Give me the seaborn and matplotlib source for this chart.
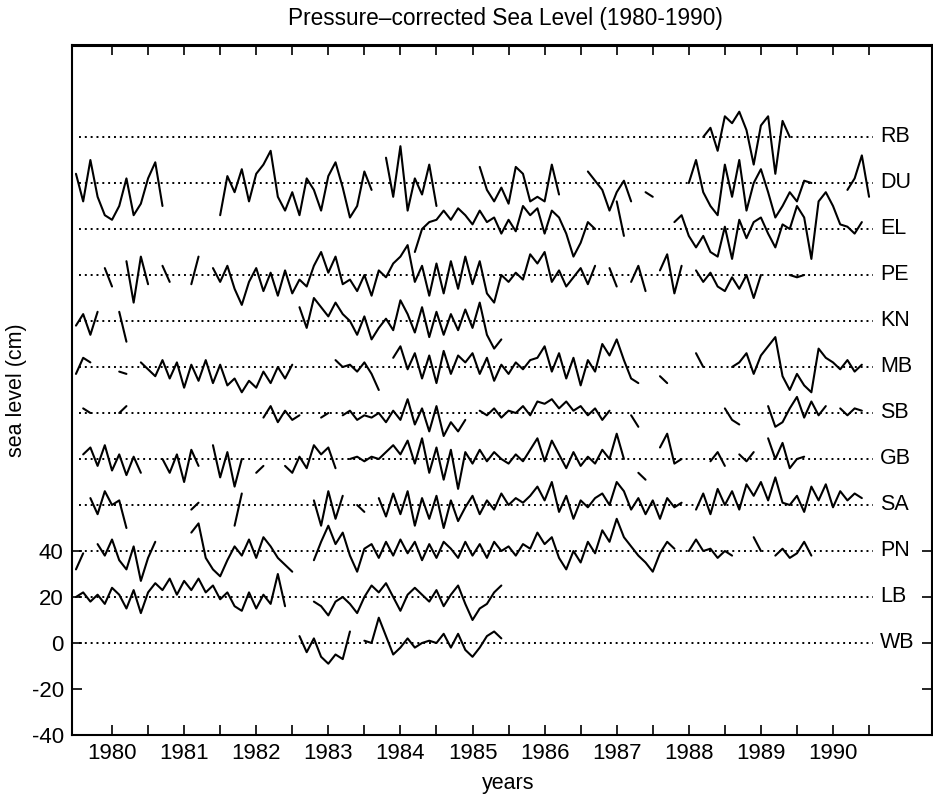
import numpy as np
import pandas as pd
import matplotlib
matplotlib.use("Agg")
import matplotlib.pyplot as plt
import seaborn as sns

nan = np.nan

# time axis: 1980.0 .. 1991.0 in steps of 0.1 year (111 samples)
years = np.round(np.arange(1980.0, 1991.05, 0.1), 1)

stations = ["RB", "DU", "EL", "PE", "KN", "MB", "SB", "GB", "SA", "PN", "LB", "WB"]
offsets = [220, 200, 180, 160, 140, 120, 100, 80, 60, 40, 20, 0]

RB = [nan] * 87 + [0, 4, -6, 9, 6, 11, 3, -12, 5, 9, -16, 7, 0] + [nan] * 11

DU = ([4, -8, 10, -6, -14, -16, -10, 2, -14, -9, 2, 9, -10] + [nan] * 7
      + [-14, 3, -4, 6, -8, 4, 8, 14, -6, -12, -4, -14, 2, -3, -12, 3, 9, -2, -15, -10, 5, -3]
      + [nan] + [11, -6, 16, -12, 2, -5, 8, -10] + [nan] * 5
      + [7, -3, -8, -2, -9, 7, 4, -8, -6, -8, 8, -5] + [nan] * 3
      + [5, 1, -3, -12, -4, 1, -8] + [nan] + [-4, -6] + [nan] * 4
      + [0, 10, -4, -10, -14, 8, -6, 10, -12, 0, 6, -4, -15, -10, -4, -8, 1, 0]
      + [nan] * 4 + [-3, 2, 12, -6])

EL = ([nan] * 47
      + [-10, 0, 3, 4, 8, 4, 9, 6, 2, 8, 3, 5, -2, 4, -1, 10, 6, 9, -2, 8, 5, -2, -12, -6, 3, 0]
      + [nan] * 2 + [12, -3] + [nan] * 6
      + [3, 6, -3, -8, -3, -10, -12, 1, -13, 4, -4, 3, 5, -2, -8, 2, 0, 10, 5, -13, 12, 16, 10, 2, 1, -2, 3]
      + [nan])

PE = ([nan] * 4 + [3, -5] + [nan] + [6, -12, 8, -4] + [nan] + [4, -3] + [nan] * 2
      + [-4, 8] + [nan]
      + [3, -3, 4, -6, -13, -3, 3, -7, 1, -9, 2, -8, -2, -5, 4, 10, 1, 8, -4, -2,
         -7, 0, -9, 2, -1, 5, 8, 13, -3, 4, -9, 5, -8, 6, -6, 8, -4, 6, -8, -12,
         0, -3, 1, -2, 9, 5, 10, -3, 2, -5, -1, 3, -4, 4]
      + [nan] + [3, -5] + [nan] + [-3, 4, -7] + [nan] + [2, 9, -8, 4] + [nan]
      + [2, -3, 1, -5, -7, -1, -6, 0, -10, 0] + [nan] * 3 + [0, -1, 0] + [nan] * 9)

KN = ([-2, 3, -6, 4] + [nan] * 2 + [4, -9] + [nan] * 23
      + [6, -3, 10, 6, 2, 8, 3, 0, -6, 2, -8, -3, 1, -4, 9, 3, -5, 6, -7, 4,
         -6, 3, -4, 5, -3, 8, -6, -12, -8]
      + [nan] * 51)

MB = ([-3, 4, 2] + [nan] * 3 + [-2, -3] + [nan] + [2, -1]
      + [-4, 3, -5, 2, -9, 1, -6, 3, -7, 1, -8, -5, -11, -6, -9, -2, -7, 0, -5, 1]
      + [nan] * 5 + [3, 0, 1, -2, 2, -3, -10] + [nan]
      + [4, 9, -1, 6, -5, 5, -7, 7, -3, 5, 2, 6, -3, 4, -6, 1, -3, 2, -1, 3,
         4, 9, -2, 6, -5, 4, -8, 3, -2, 10, 5, 12, 3, -5, -7]
      + [nan] * 2 + [-4, -7] + [nan] * 3 + [6, 0] + [nan] * 3
      + [0, 2, 6, -3, 5, 9, 13, -4, -10, -3, -8, -11, 8, 4, 2, -1, 3, -2, 1]
      + [nan])

SB = ([nan] + [2, 0] + [nan] * 3 + [0, 3] + [nan] * 18 + [-2, 3, -4, 1, -3, -1]
      + [nan] * 2 + [-2, 0] + [nan]
      + [-1, 1, -3, -1, -2, 0, -4, 1, -3, 6, -5, 2, -8, 3, -10, -4, -8, -3]
      + [nan]
      + [1, -1, 2, -2, 1, 0, 3, -1, 5, 4, 6, 2, 5, 1, 3, -1, 2, -3, 1]
      + [nan] * 2 + [-1, -6] + [nan] * 11 + [2, -3, -5] + [nan] * 3
      + [3, -6, -4, 2, 7, -2, 5, -1, 3] + [nan] + [2, -1, 2, 1] + [nan])

GB = ([nan] + [2, 5, -3, 6, -5, 2, -7, 1, -6] + [nan] * 2 + [0, -6, 2, -10, 4, -3]
      + [nan] + [6, -8, 3, -12, 0] + [nan] + [-6, -3] + [nan] * 2
      + [-3, -6, 1, -4, 6, 2, 5, -4] + [nan]
      + [0, 1, -1, 1, 0, 3, 6, 2, 8, -2, 9, -6, 5, -9, 4, -13, 3, -2, 4, -1,
         3, 0, -2, 2, -1, 4, 9, -1, 8, 2, -4, 3, -3, 1, -2, 4, 0, 11, 0]
      + [nan] + [-6, -9] + [nan] + [5, 11, -2, 0] + [nan] * 3 + [-1, 3, -3] + [nan]
      + [2, -1, 3] + [nan] + [9, 0, 7, -4, 0, 1] + [nan] * 9)

SA = ([nan] * 2 + [3, -4, 6, 0] + [2, -10] + [nan] * 8 + [-2, 1] + [nan] * 4
      + [-9, 5] + [nan] * 9 + [2, -9, 6, -6, 4] + [nan] + [0, -3] + [nan]
      + [3, -5, 5, -4, 6, -9, 3, -6, 4, -10, 2, -7, -1, 4, -4, 2, -2, 5, 0, 3,
         1, 4, 8, 2, 10, -3, 4, -6, 2, -1, 3, 5, 0, 10, 6, -2, 3, -4, 2, -6,
         3, -1, 1]
      + [nan] + [-2, 5, -4, 7, 0, 6, -2, 9, 4, 10]
      + [2, 12, 1, 0, 4, -3, 8, 2, 9, -1, 6, 2, 5, 3] + [nan])

PN = ([-8, -1] + [nan] + [3, -2, 5, -4, -8, 2, -13, -3, 4] + [nan] * 4
      + [8, 12, -3, -8, -11, -4, 2, -2, 5, -3, 6, 2, -3, -6, -9] + [nan] * 2
      + [-4, 4, 11, 3, 8, -2, -9, 1, 3, -3, 4, -2, 5, -1, 4, -4, 3, -3, 4, 1,
         -3, 4, -2, 3, -3, 4, 0, 2, -2, 3, 1, 8, 3, 6, -3, -8, 0, -5, 4, -1,
         9, 4, 14, 6, 2, -2, -5, -9, -1, 4, 1]
      + [nan] + [0, 5, 0] + [1, -3, 0, -2] + [nan] * 2 + [6, 0] + [nan]
      + [-2, 1, -3, -1, 4, -2] + [nan] * 8)

LB = ([0, 2, -2, 1, -3, 4, 1, -5, 3, -7, 2, 6, 3, 8, 1, 7, 3, 8, 2, 5,
       -1, 2, -4, -6, 2, -5, 1, -3, 10, -4]
      + [nan] * 3
      + [-2, -4, -8, -2, 0, -3, -7, 0, 5, 2, 6, 0, -6, 1, 4, 1, -2, 3, -4, 1,
         5, -3, -10, -5, -3, 2, 5]
      + [nan] * 51)

WB = ([nan] * 31 + [3, -4, 2, -6, -9, -5, -7, 5] + [nan]
      + [1, 0, 11, 3, -5, -2, 2, -2, 0, 1, 0, 4, -2, 4, -3, -6, -2, 3, 5, 2]
      + [nan] * 51)

series = [RB, DU, EL, PE, KN, MB, SB, GB, SA, PN, LB, WB]

# long-form table, one unit per contiguous run of data
rows = []
seg = 0
for name, off, vals in zip(stations, offsets, series):
    assert len(vals) == len(years), (name, len(vals))
    prev_ok = False
    for t, v in zip(years, vals):
        ok = not np.isnan(v)
        if ok:
            if not prev_ok:
                seg += 1
            rows.append({"year": t, "level": off + v, "station": name, "seg": seg})
        prev_ok = ok
df = pd.DataFrame(rows)

sns.set_style("ticks")
plt.rcParams["font.family"] = ["Liberation Sans", "DejaVu Sans"]
plt.rcParams["axes.unicode_minus"] = False
plt.rcParams["text.color"] = "black"
plt.rcParams["xtick.color"] = "black"
plt.rcParams["ytick.color"] = "black"
plt.rcParams["axes.labelcolor"] = "black"

fig = plt.figure(figsize=(9.33, 7.99), dpi=100)
ax = fig.add_axes([72 / 933, 1 - 735 / 799, 860 / 933, 690 / 799])

for off in offsets:
    ax.plot([1980.04, 1991.06], [off, off], linestyle=(0, (1, 2)),
            color="black", lw=1.4, zorder=1)

sns.lineplot(data=df, x="year", y="level", units="seg", estimator=None,
             color="black", linewidth=1.5, sort=False, legend=False, ax=ax,
             zorder=2)

for name, off in zip(stations, offsets):
    ax.text(1991.15, off, name, ha="left", va="center", fontsize=15.5,
            color="black")

ax.set_xlim(1979.945, 1991.873)
ax.set_ylim(-40, 260)

xt = np.arange(1980.5, 1991.01, 0.5)
ax.set_xticks(xt)
ax.set_xticklabels([str(int(t)) if abs(t % 1 - 0.5) < 1e-6 else "" for t in xt])
ax.set_yticks([-40, -20, 0, 20, 40])
ax.tick_params(direction="in", top=True, right=True, length=7, width=1.2,
               labelsize=16, colors="black", labelcolor="black", pad=6)
for s in ["left", "bottom", "right"]:
    ax.spines[s].set_linewidth(1.5)
    ax.spines[s].set_color("black")
ax.spines["top"].set_linewidth(2.2)
ax.spines["top"].set_color("black")
ax.set_xlabel("")
ax.set_ylabel("")

fig.text(505 / 933, 1 - 18 / 799, "Pressure\u2013corrected Sea Level (1980-1990)",
         ha="center", va="center", fontsize=16.3, color="black")
fig.text(508 / 933, 1 - 783 / 799, "years", ha="center", va="center",
         fontsize=15.5, color="black")
fig.text(17 / 933, 1 - 390 / 799, "sea level (cm)", ha="center", va="center",
         rotation=90, fontsize=15.5, color="black")

fig.savefig("out.png", dpi=100)
